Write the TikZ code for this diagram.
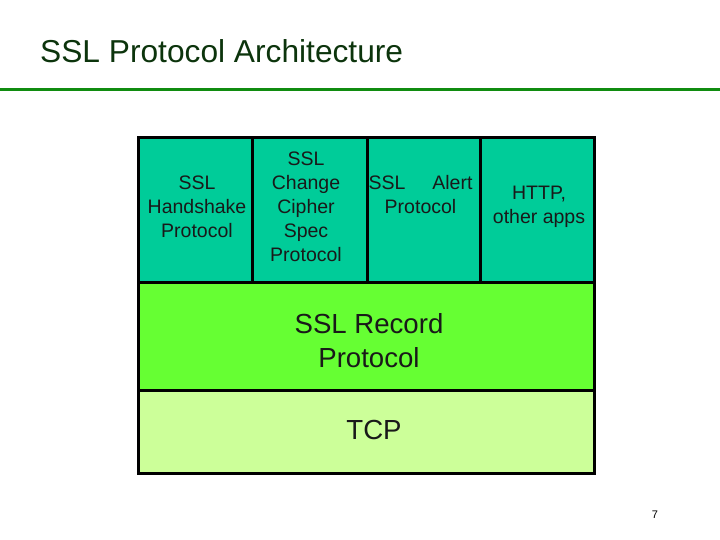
\documentclass[tikz,border=0pt]{standalone}
\usepackage{fontspec}
\setmainfont{Liberation Sans}
\definecolor{teal1}{RGB}{0,204,153}
\definecolor{recgreen}{RGB}{102,255,51}
\definecolor{tcpgreen}{RGB}{204,255,153}
\definecolor{titlegreen}{RGB}{12,52,12}
\definecolor{rulegreen}{RGB}{16,140,16}
\begin{document}
\begin{tikzpicture}[x=1bp,y=-1bp,
  layer/.style={draw=black,line width=3bp,anchor=north west,inner sep=0pt,outer sep=0pt},
  lbl/.style={align=center,inner sep=0pt,text=black!90,font=\fontsize{19.5bp}{24bp}\selectfont},
  big/.style={align=center,inner sep=0pt,text=black!90,font=\fontsize{27.6bp}{34bp}\selectfont}]
\useasboundingbox (0,0) rectangle (720,540);
% title
\node[anchor=base west,inner sep=0pt,text=titlegreen,font=\fontsize{31.7bp}{36bp}\selectfont] (title) at (40,63) {SSL Protocol Architecture};
\draw[rulegreen,line width=3bp] (0,90) coordinate (r1) -- (720,90) coordinate (r2);
% boxes
\node[layer,fill=teal1,minimum width=114bp,minimum height=144bp] (hs) at (138,138) {};
\node[layer,fill=teal1,minimum width=115bp,minimum height=144bp] (ccs) at (252,138) {};
\node[layer,fill=teal1,minimum width=113bp,minimum height=144bp] (al) at (367,138) {};
\node[layer,fill=teal1,minimum width=114bp,minimum height=144bp] (http) at (480,138) {};
\node[layer,fill=recgreen,minimum width=456bp,minimum height=108bp] (rec) at (138,282) {};
\node[layer,fill=tcpgreen,minimum width=456bp,minimum height=83bp] (tcp) at (138,390) {};
% labels
\node[lbl] (hst) at (197,207) {SSL\\Handshake\\Protocol};
\node[lbl] (ccst) at (306,207) {SSL\\Change\\Cipher\\Spec\\Protocol};
\node[lbl] (alt) at (420.5,195) {SSL\hspace{27bp}Alert\\Protocol};
\node[lbl] (httpt) at (539,207) {HTTP,\\other apps};
\node[big] (rect) at (369,341) {SSL Record\\Protocol};
\node[big] (tcpt) at (374,430) {TCP};
\node[inner sep=0pt,font=\fontsize{11bp}{13bp}\selectfont] (pg) at (655,515) {7};
\end{tikzpicture}
\end{document}
